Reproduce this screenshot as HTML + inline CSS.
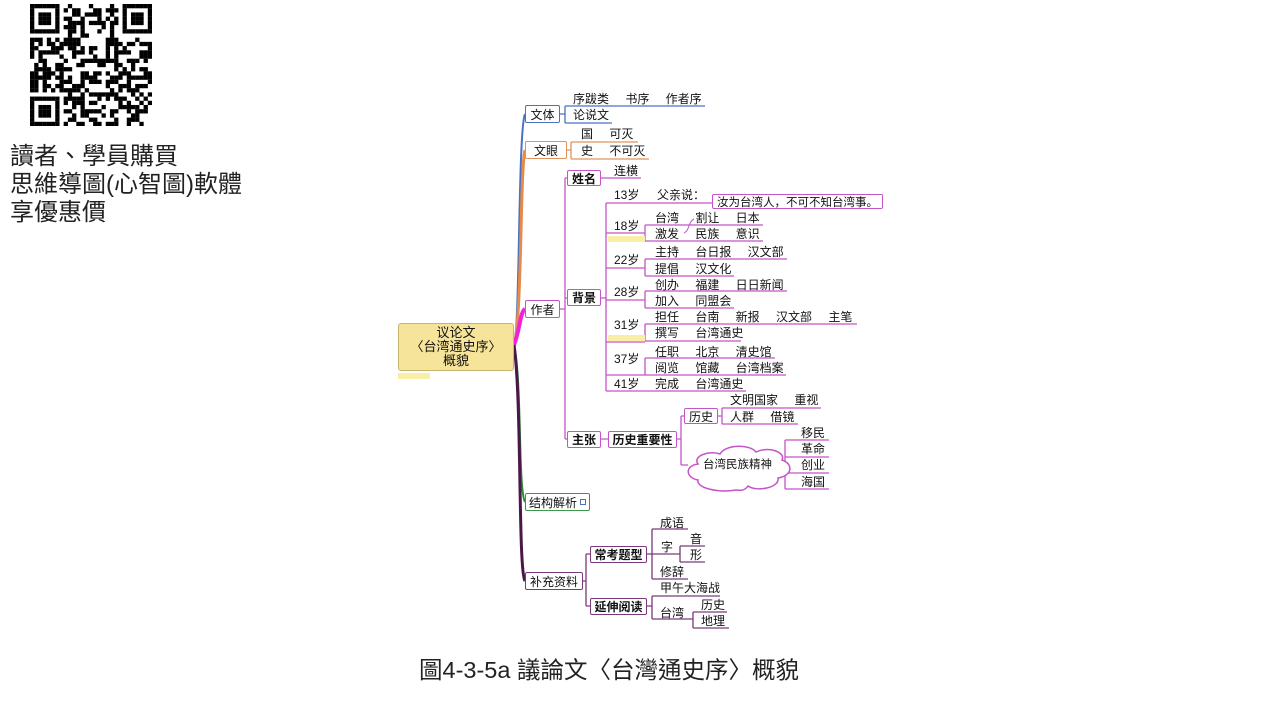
<!DOCTYPE html>
<html><head><meta charset="utf-8">
<style>
body{margin:0;width:1280px;height:720px;background:#fff;position:relative;overflow:hidden;font-family:"Liberation Sans","Noto Sans CJK SC",sans-serif;}
.t{position:absolute;font-size:12px;line-height:14px;color:#111;white-space:nowrap;word-spacing:13px;}
.b{position:absolute;box-sizing:border-box;border:1.5px solid #c455c8;border-radius:2px;background:#fff;font-size:12px;display:flex;align-items:center;justify-content:center;white-space:nowrap;color:#111;}
.big{position:absolute;font-family:"Liberation Sans","Noto Sans CJK TC",sans-serif;font-size:24px;line-height:28px;color:#222;white-space:nowrap;}
</style></head><body>
<svg id="qr" style="position:absolute;left:30px;top:4px" width="122" height="122" viewBox="0 0 29 29"></svg>
<div class="big" style="left:10px;top:143px">讀者、學員購買</div>
<div class="big" style="left:10px;top:171px">思維導圖(心智圖)軟體</div>
<div class="big" style="left:10px;top:199px">享優惠價</div>
<div class="big" style="left:419px;top:656px;font-size:23.5px">圖4-3-5a 議論文〈台灣通史序〉概貌</div>

<svg style="position:absolute;left:0;top:0" width="1280" height="720" fill="none" stroke-width="1.3">
<path d="M514 345 C520 330 518 130 525 114" stroke="#4a72c0" stroke-width="2"/>
<path d="M514 345 C522 320 520 170 525 150" stroke="#e68a4a" stroke-width="3"/>
<path d="M514 345 C520 330 520 312 525 309" stroke="#ee22dd" stroke-width="4"/>
<path d="M514 345 C522 380 518 490 525 502" stroke="#2f8a3a" stroke-width="2"/>
<path d="M514 345 C522 400 518 570 525 581" stroke="#4a1848" stroke-width="3"/>
<g stroke="#4a72c0"><path d="M560 114H565M565 106V123M565 106H705M565 123H612"/></g>
<g stroke="#e0925a"><path d="M567 150H571M571 142V159M571 142H638M571 159H649"/></g>
<g stroke="#c455c8">
<path d="M560 309H565M565 178V439M565 178H567M565 298H567M565 439H567"/>
<path d="M601 178H641"/>
<path d="M601 298H606M606 203V391"/>
<path d="M606 203H712M606 233H645M606 268H645M606 300H645M606 342H645M606 375H645M606 391H746"/>
<path d="M645 225V241M645 225H763M645 241H763"/>
<path d="M645 259V276M645 259H787M645 276H734"/>
<path d="M645 291V308M645 291H787M645 308H734"/>
<path d="M645 324V341M645 324H857M645 341H741"/>
<path d="M645 358V375M645 358H775M645 375H786"/>
<path d="M601 439H608M677 439H681M681 416V465M681 416H684M681 465H688"/>
<path d="M718 416H722M722 408V424M722 408H821M722 424H798"/>
<path d="M783 465H785M785 440V489M785 440H829M785 457H829M785 473H829M785 489H829"/>
<path d="M694 219 C688 222 690 230 684 233" stroke-width="1"/>
<path d="M736 490 c-18 3 -40 -2 -38 -10 c-12 -2 -14 -14 0 -16 c-6 -8 12 -14 22 -10 c6 -10 30 -10 36 -2 c12 -6 30 0 26 8 c12 4 10 16 -4 18 c2 10 -22 14 -30 8 c-4 6 -10 4 -12 4z" stroke-width="1.5" fill="#fff"/>
</g>
<g stroke="#7a3a7a">
<path d="M583 581H586M586 554V606M586 554H590M586 606H590"/>
<path d="M647 554H652M652 529V579M652 529H688M652 554H680M652 579H688M680 546V562M680 546H705M680 562H705"/>
<path d="M647 606H652M652 596V619M652 596H720M652 619H693M693 612V628M693 612H727M693 628H729"/>
</g>
</svg>

<div class="b" style="left:398px;top:323px;width:116px;height:48px;background:#f5e49a;border-color:#c8b56b;text-align:center;line-height:14px;font-size:13px;border-radius:3px">议论文<br>〈台湾通史序〉<br>概貌</div>
<div style="position:absolute;left:398px;top:373px;width:32px;height:6px;background:#f8eea8"></div>

<div class="b" style="left:525px;top:105px;width:35px;height:18px;border-color:#4a72c0">文体</div>
<div class="t" style="left:573px;top:92px">序跋类 书序 作者序</div>
<div class="t" style="left:573px;top:108px">论说文</div>
<div class="b" style="left:525px;top:141px;width:42px;height:18px;border-color:#e0925a">文眼</div>
<div class="t" style="left:581px;top:127px">国 可灭</div>
<div class="t" style="left:581px;top:144px">史 不可灭</div>

<div class="b" style="left:525px;top:300px;width:35px;height:18px">作者</div>
<div class="b" style="left:567px;top:170px;width:34px;height:16px;font-weight:bold">姓名</div>
<div class="t" style="left:614px;top:164px">连横</div>
<div class="b" style="left:567px;top:289px;width:34px;height:17px;font-weight:bold">背景</div>
<div class="t" style="left:614px;top:188px">13岁</div>
<div class="t" style="left:657px;top:188px">父亲说：</div>
<div class="b" style="left:712px;top:194px;width:171px;height:15px;font-size:11.5px">汝为台湾人，不可不知台湾事。</div>
<div class="t" style="left:614px;top:219px">18岁</div>
<div class="t" style="left:655px;top:211px">台湾 割让 日本</div>
<div class="t" style="left:655px;top:227px">激发 民族 意识</div>
<div style="position:absolute;left:608px;top:236px;width:37px;height:6px;background:#f8eea8"></div>
<div class="t" style="left:614px;top:253px">22岁</div>
<div class="t" style="left:655px;top:245px">主持 台日报 汉文部</div>
<div class="t" style="left:655px;top:262px">提倡 汉文化</div>
<div class="t" style="left:614px;top:285px">28岁</div>
<div class="t" style="left:655px;top:278px">创办 福建 日日新闻</div>
<div class="t" style="left:655px;top:294px">加入 同盟会</div>
<div class="t" style="left:614px;top:318px">31岁</div>
<div class="t" style="left:655px;top:310px">担任 台南 新报 汉文部 主笔</div>
<div class="t" style="left:655px;top:326px">撰写 台湾通史</div>
<div style="position:absolute;left:608px;top:335px;width:37px;height:6px;background:#f8eea8"></div>
<div class="t" style="left:614px;top:352px">37岁</div>
<div class="t" style="left:655px;top:345px">任职 北京 清史馆</div>
<div class="t" style="left:655px;top:361px">阅览 馆藏 台湾档案</div>
<div class="t" style="left:614px;top:377px">41岁</div>
<div class="t" style="left:655px;top:377px">完成 台湾通史</div>

<div class="b" style="left:567px;top:431px;width:34px;height:17px;font-weight:bold">主张</div>
<div class="b" style="left:608px;top:431px;width:69px;height:17px;font-weight:bold">历史重要性</div>
<div class="b" style="left:684px;top:408px;width:34px;height:16px">历史</div>
<div class="t" style="left:730px;top:393px">文明国家 重视</div>
<div class="t" style="left:730px;top:410px">人群 借镜</div>
<div class="t" style="left:703px;top:458px;font-size:11.5px;word-spacing:0">台湾民族精神</div>
<div class="t" style="left:801px;top:426px">移民</div>
<div class="t" style="left:801px;top:442px">革命</div>
<div class="t" style="left:801px;top:458px">创业</div>
<div class="t" style="left:801px;top:475px">海国</div>

<div class="b" style="left:525px;top:493px;width:65px;height:18px;border-color:#3a9a4a;justify-content:flex-start;padding-left:3px">结构解析<span style="display:inline-block;width:4px;height:4px;border:1px solid #4a72c0;margin-left:3px"></span></div>
<div class="b" style="left:525px;top:572px;width:58px;height:18px;border-color:#7a3a7a">补充资料</div>
<div class="b" style="left:590px;top:546px;width:57px;height:17px;border-color:#7a3a7a;font-weight:bold">常考题型</div>
<div class="b" style="left:590px;top:598px;width:57px;height:17px;border-color:#7a3a7a;font-weight:bold">延伸阅读</div>
<div class="t" style="left:660px;top:516px">成语</div>
<div class="t" style="left:661px;top:540px">字</div>
<div class="t" style="left:690px;top:532px">音</div>
<div class="t" style="left:690px;top:548px">形</div>
<div class="t" style="left:660px;top:565px">修辞</div>
<div class="t" style="left:660px;top:581px">甲午大海战</div>
<div class="t" style="left:660px;top:606px">台湾</div>
<div class="t" style="left:701px;top:598px">历史</div>
<div class="t" style="left:701px;top:614px">地理</div>

<script>
(function(){
var s=document.getElementById('qr'),N=29,h='';
var seed=12345;function r(){seed=(seed*1103515245+12345)&0x7fffffff;return seed/0x7fffffff;}
function fin(x,y){return x<8&&y<8||x>=N-8&&y<8||x<8&&y>=N-8;}
for(var y=0;y<N;y++)for(var x=0;x<N;x++){
 var on=false;
 if(fin(x,y)){var fx=x<8?x:x-(N-7),fy=y<8?y:y-(N-7);
  if(fx>=0&&fx<7&&fy>=0&&fy<7){on=(fx==0||fx==6||fy==0||fy==6||(fx>=2&&fx<=4&&fy>=2&&fy<=4));}}
 else on=r()<0.5;
 if(on)h+='<rect x="'+x+'" y="'+y+'" width="1.02" height="1.02" fill="#000"/>';
}
s.innerHTML=h;})();
</script>
</body></html>
